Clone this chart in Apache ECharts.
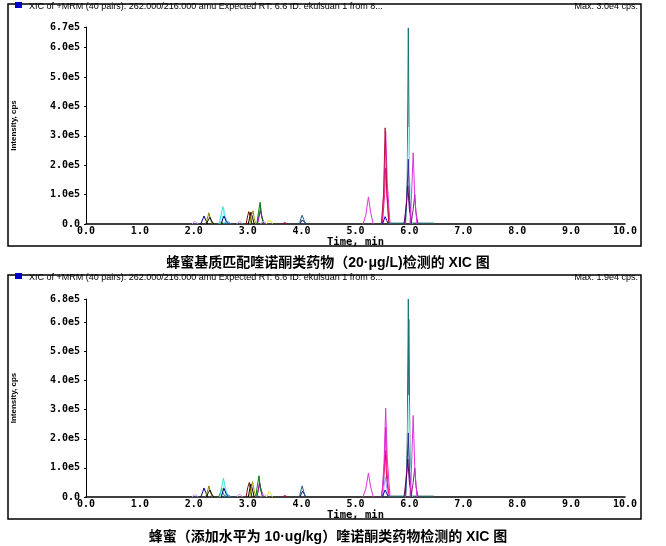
<!DOCTYPE html>
<html><head><meta charset="utf-8">
<script src="https://cdn.jsdelivr.net/npm/echarts@6/dist/echarts.min.js"></script>
<style>html,body{margin:0;padding:0;background:#fff}#c{width:666px;height:546px}</style>
</head><body><div id="c"></div>
<script>
// ---------- tick labels / axes ----------
const xTicks = [0,1,2,3,4,5,6,7,8,9,10];
const topYMax = 6.7e5;
const botYMax = 6.8e5;
const headerLeft = 'XIC of +MRM (40 pairs): 262.000/216.000 amu Expected RT: 6.6 ID: ekulsuan 1 from 8...';
const topHeaderRight = 'Max. 3.0e4 cps.';
const botHeaderRight = 'Max. 1.9e4 cps.';
const topCaption = '蜂蜜基质匹配喹诺酮类药物（20·μg/L)检测的 XIC 图';
const botCaption = '蜂蜜（添加水平为 10·ug/kg）喹诺酮类药物检测的 XIC 图';

// ---------- top panel traces [time(min), intensity(cps)] ----------
const topLav1 = [[1.97,0],[2.0,8e3],[2.02,1.4e4],[2.04,8e3],[2.07,0]];
const topNavy1 = [[2.13,0],[2.17,1.8e4],[2.19,2.7e4],[2.22,1.4e4],[2.26,0]];
const topOlive1 = [[2.22,0],[2.26,2.4e4],[2.28,3.8e4],[2.3,2.2e4],[2.34,0]];
const topBlack1 = [[2.23,0],[2.27,1.4e4],[2.3,2.3e4],[2.33,1.1e4],[2.37,0]];
const topGreen1 = [[2.45,0],[2.49,6e3],[2.51,1.2e4],[2.53,5e3],[2.57,0]];
const topCyan1 = [[2.47,0],[2.51,3.4e4],[2.54,5.9e4],[2.57,3.2e4],[2.62,0]];
const topCyan2 = [[2.5,0],[2.54,2.8e4],[2.56,5.0e4],[2.59,2.4e4],[2.64,0]];
const topNavy2 = [[2.51,0],[2.54,1.8e4],[2.56,2.7e4],[2.6,1.0e4],[2.64,0]];
const topSky1 = [[2.56,0],[2.59,8e3],[2.62,1.4e4],[2.65,6e3],[2.69,0]];
const topLav2 = [[2.8,0],[2.83,8e3],[2.85,1.3e4],[2.87,8e3],[2.9,0]];
const topMaroon1 = [[2.97,0],[3.0,2.8e4],[3.02,4.2e4],[3.05,2.5e4],[3.08,0]];
const topBlack2 = [[3.01,0],[3.04,2.5e4],[3.06,4.0e4],[3.09,2.2e4],[3.12,0]];
const topOlive2 = [[3.04,0],[3.07,3.0e4],[3.1,4.5e4],[3.12,2.0e4],[3.15,0]];
const topGreen2 = [[3.17,0],[3.2,4.0e4],[3.23,7.4e4],[3.25,3.5e4],[3.29,0]];
const topTeal1 = [[3.18,0],[3.21,3.0e4],[3.24,5.5e4],[3.26,2.5e4],[3.3,0]];
const topMagenta1 = [[3.18,0],[3.21,2.5e4],[3.24,4.5e4],[3.27,2.0e4],[3.31,0]];
const topLav3 = [[3.24,0],[3.27,9e3],[3.29,1.5e4],[3.31,8e3],[3.35,0]];
const topYellow = [[3.35,0],[3.38,1.2e4],[3.4,1.8e4],[3.43,1.0e4],[3.46,0]];
const topMaroon2 = [[3.64,0],[3.67,4e3],[3.69,5e3],[3.71,3e3],[3.74,0]];
const topTeal2 = [[3.96,0],[3.99,2.0e4],[4.01,3.0e4],[4.04,1.5e4],[4.07,0]];
const topNavy3 = [[3.97,0],[4.0,1.2e4],[4.02,1.8e4],[4.05,9e3],[4.08,0]];
const topMagenta2 = [[5.14,0],[5.19,3.0e4],[5.24,9.2e4],[5.28,4.0e4],[5.33,0]];
const topCrimson = [[5.48,0],[5.52,1.0e5],[5.55,3.27e5],[5.58,1.2e5],[5.62,0]];
const topMagenta3 = [[5.49,0],[5.53,1.2e5],[5.56,3.15e5],[5.59,1.4e5],[5.64,0]];
const topPink = [[5.5,0],[5.54,1.0e5],[5.56,1.9e5],[5.58,1.0e5],[5.62,0]];
const topNavy4 = [[5.5,0],[5.53,1.5e4],[5.55,2.5e4],[5.58,1.2e4],[5.61,0]];
const topTealBig = [[5.6,3e3],[5.93,3e3],[5.96,1.5e5],[5.98,6.67e5],[6.0,1.5e5],[6.03,3e3],[6.45,3e3]];
const topCyanLight = [[5.92,0],[5.96,1.2e5],[5.985,3.3e5],[6.01,1.2e5],[6.05,0]];
const topSlate = [[5.92,0],[5.95,8e4],[5.98,2.2e5],[6.0,8e4],[6.04,0]];
const topPurpleDark = [[5.9,0],[5.94,6e4],[5.97,1.3e5],[6.0,5e4],[6.04,0]];
const topMagenta4 = [[6.01,0],[6.04,1.0e5],[6.07,2.42e5],[6.1,9e4],[6.14,0]];
const topPurple = [[6.03,0],[6.07,5e4],[6.1,1.0e5],[6.12,4e4],[6.16,0]];

// ---------- bottom panel traces ----------
const botLav1 = [[1.97,0],[2.0,7e3],[2.02,1.2e4],[2.04,7e3],[2.07,0]];
const botNavy1 = [[2.13,0],[2.17,2.0e4],[2.19,3.1e4],[2.22,1.6e4],[2.26,0]];
const botOlive1 = [[2.22,0],[2.26,2.4e4],[2.28,3.8e4],[2.3,2.2e4],[2.34,0]];
const botBlack1 = [[2.23,0],[2.27,1.5e4],[2.3,2.4e4],[2.33,1.1e4],[2.37,0]];
const botGreen1 = [[2.46,0],[2.5,1.8e4],[2.52,3.1e4],[2.54,1.5e4],[2.58,0]];
const botCyan1 = [[2.48,0],[2.52,3.6e4],[2.55,6.5e4],[2.58,3.4e4],[2.63,0]];
const botCyan2 = [[2.5,0],[2.54,2.6e4],[2.57,4.5e4],[2.6,2.2e4],[2.65,0]];
const botNavy2 = [[2.51,0],[2.54,2.0e4],[2.56,3.0e4],[2.6,1.1e4],[2.64,0]];
const botSky1 = [[2.56,0],[2.59,8e3],[2.62,1.4e4],[2.65,6e3],[2.69,0]];
const botLav2 = [[2.8,0],[2.83,8e3],[2.85,1.3e4],[2.87,8e3],[2.9,0]];
const botMaroon1 = [[2.97,0],[3.0,3.2e4],[3.03,5.0e4],[3.05,2.8e4],[3.08,0]];
const botBlack2 = [[3.01,0],[3.04,2.8e4],[3.06,4.5e4],[3.09,2.4e4],[3.12,0]];
const botOlive2 = [[3.04,0],[3.07,3.4e4],[3.09,5.3e4],[3.12,2.2e4],[3.15,0]];
const botGreen2 = [[3.15,0],[3.18,4.0e4],[3.21,7.3e4],[3.23,3.5e4],[3.27,0]];
const botTeal1 = [[3.17,0],[3.2,2.8e4],[3.22,5.0e4],[3.25,2.4e4],[3.29,0]];
const botMagenta1 = [[3.17,0],[3.2,2.6e4],[3.22,4.8e4],[3.25,2.2e4],[3.29,0]];
const botLav3 = [[3.24,0],[3.27,9e3],[3.29,1.5e4],[3.31,8e3],[3.35,0]];
const botYellow = [[3.35,0],[3.38,1.3e4],[3.4,2.0e4],[3.43,1.1e4],[3.46,0]];
const botMaroon2 = [[3.64,0],[3.67,4e3],[3.69,5e3],[3.71,3e3],[3.74,0]];
const botTeal2 = [[3.96,0],[3.99,2.4e4],[4.01,3.8e4],[4.04,1.8e4],[4.07,0]];
const botNavy3 = [[3.97,0],[4.0,1.3e4],[4.02,2.0e4],[4.05,1.0e4],[4.08,0]];
const botMagenta2 = [[5.14,0],[5.19,2.8e4],[5.24,8.2e4],[5.28,3.6e4],[5.33,0]];
const botCrimson = [[5.48,0],[5.52,6e4],[5.55,1.6e5],[5.58,6e4],[5.62,0]];
const botMagenta3 = [[5.49,0],[5.53,1.2e5],[5.56,3.05e5],[5.59,1.3e5],[5.64,0]];
const botPink = [[5.5,0],[5.54,1.1e5],[5.56,2.4e5],[5.58,1.0e5],[5.62,0]];
const botLightBlue = [[5.5,0],[5.53,3.5e4],[5.55,7e4],[5.58,3e4],[5.61,0]];
const botNavy4 = [[5.5,0],[5.53,1.5e4],[5.55,2.4e4],[5.58,1.2e4],[5.61,0]];
const botTealBig = [[5.6,3e3],[5.93,3e3],[5.96,1.5e5],[5.98,6.8e5],[6.0,1.5e5],[6.03,3e3],[6.45,3e3]];
const botTealB = [[5.93,0],[5.96,1.6e5],[5.99,6.1e5],[6.01,1.6e5],[6.04,0]];
const botCyanLight = [[5.92,0],[5.96,1.2e5],[5.985,3.5e5],[6.01,1.2e5],[6.05,0]];
const botSlate = [[5.92,0],[5.95,8e4],[5.98,2.2e5],[6.0,8e4],[6.04,0]];
const botPurpleDark = [[5.9,0],[5.94,6e4],[5.97,1.3e5],[6.0,5e4],[6.04,0]];
const botMagenta4 = [[6.01,0],[6.04,1.1e5],[6.07,2.8e5],[6.1,1.0e5],[6.14,0]];
const botPurple = [[6.03,0],[6.07,5e4],[6.1,1.0e5],[6.12,4e4],[6.16,0]];

// ---------- styling (colours per trace) ----------
const C = {
  lav:'#c8a0ff', navy:'#000080', olive:'#808000', black:'#000000', green:'#00a000',
  cyan:'#30e0e0', cyan2:'#80f0f0', sky:'#2090d0', maroon:'#800000', olive2:'#9a9a00',
  green2:'#007a00', teal:'#208080', magenta:'#c000c0', yellow:'#e0e030', maroon2:'#a00040',
  teal2:'#206080', magenta2:'#e030e0', crimson:'#c01040', pink:'#ff1480', navy4:'#0000c0',
  tealBig:'#1a7272', cyanLight:'#b0fafa', slate:'#303090', purpleDark:'#600060', purple:'#802080',
  lightBlue:'#a0a0ff'
};
const topTraces = [
  [topLav1,C.lav],[topNavy1,C.navy],[topOlive1,C.olive],[topBlack1,C.black],[topGreen1,C.green],
  [topCyan1,C.cyan],[topCyan2,C.cyan2],[topNavy2,C.navy],[topSky1,C.sky],[topLav2,C.lav],
  [topMaroon1,C.maroon],[topBlack2,C.black],[topOlive2,C.olive2],[topTeal1,C.teal],[topMagenta1,C.magenta],
  [topGreen2,C.green2],[topLav3,C.lav],[topYellow,C.yellow],[topMaroon2,C.maroon2],[topNavy3,C.navy],[topTeal2,C.teal2],
  [topMagenta2,C.magenta2],[topMagenta3,C.magenta2],[topPink,C.pink],[topCrimson,C.crimson],[topNavy4,C.navy4],
  [topTealBig,C.tealBig],[topCyanLight,C.cyanLight],[topSlate,C.slate],[topPurpleDark,C.purpleDark],
  [topPurple,C.purple],[topMagenta4,C.magenta2]
];
const botTraces = [
  [botLav1,C.lav],[botNavy1,C.navy],[botOlive1,C.olive],[botBlack1,C.black],[botGreen1,C.green],
  [botCyan1,C.cyan],[botCyan2,C.cyan2],[botNavy2,C.navy],[botSky1,C.sky],[botLav2,C.lav],
  [botMaroon1,C.maroon],[botBlack2,C.black],[botOlive2,C.olive2],[botTeal1,C.teal],[botMagenta1,C.magenta],
  [botGreen2,C.green2],[botLav3,C.lav],[botYellow,C.yellow],[botMaroon2,C.maroon2],[botNavy3,C.navy],[botTeal2,C.teal2],
  [botMagenta2,C.magenta2],[botCrimson,C.crimson],[botPink,C.pink],[botMagenta3,C.magenta2],[botLightBlue,C.lightBlue],[botNavy4,C.navy4],
  [botTealBig,C.tealBig],[botTealB,C.tealBig],[botCyanLight,C.cyanLight],[botSlate,C.slate],[botPurpleDark,C.purpleDark],
  [botPurple,C.purple],[botMagenta4,C.magenta2]
];

const tickFont = {fontFamily:'DejaVu Sans Mono', fontWeight:'bold', fontSize:10, color:'#000'};
function xAx(gi){
  return {type:'value', gridIndex:gi, min:0, max:10, interval:1,
    name:'Time, min', nameLocation:'middle', nameGap:12,
    nameTextStyle:{fontFamily:'DejaVu Sans Mono', fontWeight:'bold', fontSize:10.5, color:'#000'},
    axisLine:{lineStyle:{color:'#000', width:1.5}}, axisTick:{show:false}, splitLine:{show:false},
    axisLabel:Object.assign({margin:2, formatter:v=>v.toFixed(1)}, tickFont)};
}
function yAx(gi, mx){
  return {type:'value', gridIndex:gi, min:0, max:mx, interval:1e5,
    name:'Intensity, cps', nameLocation:'middle', nameRotate:90, nameGap:68,
    nameTextStyle:{fontFamily:'Liberation Sans', fontWeight:'bold', fontSize:8, color:'#000'},
    axisLine:{show:true, lineStyle:{color:'#000', width:1}},
    axisTick:{show:true, length:2, lineStyle:{color:'#000'}}, splitLine:{show:false},
    axisLabel:Object.assign({margin:6, formatter:v=> v===0 ? '0.0' : (v/1e5).toFixed(1)+'e5'}, tickFont)};
}
function mk(traces, gi){
  return traces.map(t=>({type:'line', xAxisIndex:gi, yAxisIndex:gi, data:t[0], symbol:'none',
    showSymbol:false, smooth:false, silent:true, lineStyle:{color:t[1], width:1}, z:2}));
}
const hdrFont = {fontFamily:'Liberation Sans', fontSize:9, fill:'#000'};
const capFont = {fontFamily:'"Liberation Sans", "Noto Sans CJK SC"', fontSize:14, fontWeight:'bold', fill:'#000'};

const chart = echarts.init(document.getElementById('c'), null, {renderer:'canvas'});
chart.setOption({
  animation:false,
  backgroundColor:'#fff',
  grid:[
    {left:86, right:41, top:27, bottom:322, outerBoundsMode:'none', containLabel:false},
    {left:86, right:41, top:299, bottom:49, outerBoundsMode:'none', containLabel:false}
  ],
  xAxis:[xAx(0), xAx(1)],
  yAxis:[yAx(0, topYMax), yAx(1, botYMax)],
  series:[].concat(mk(topTraces,0), mk(botTraces,1)),
  graphic:[
    {type:'rect', shape:{x:8,y:4,width:633,height:242}, style:{fill:'none', stroke:'#000', lineWidth:1.5}, silent:true},
    {type:'rect', shape:{x:8,y:275,width:633,height:244}, style:{fill:'none', stroke:'#000', lineWidth:1.5}, silent:true},
    {type:'rect', shape:{x:15,y:2,width:7,height:6}, style:{fill:'#0000c8'}, silent:true},
    {type:'rect', shape:{x:15,y:273,width:7,height:6}, style:{fill:'#0000c8'}, silent:true},
    {type:'text', x:29, y:7, style:Object.assign({text:headerLeft, textVerticalAlign:'middle'}, hdrFont)},
    {type:'text', x:638, y:7, style:Object.assign({text:topHeaderRight, textAlign:'right', textVerticalAlign:'middle'}, hdrFont)},
    {type:'text', x:29, y:278, style:Object.assign({text:headerLeft, textVerticalAlign:'middle'}, hdrFont)},
    {type:'text', x:638, y:278, style:Object.assign({text:botHeaderRight, textAlign:'right', textVerticalAlign:'middle'}, hdrFont)},
    {type:'text', x:328, y:263, style:Object.assign({text:topCaption, textAlign:'center', textVerticalAlign:'middle'}, capFont)},
    {type:'text', x:328, y:537, style:Object.assign({text:botCaption, textAlign:'center', textVerticalAlign:'middle'}, capFont)}
  ]
});
</script></body></html>
